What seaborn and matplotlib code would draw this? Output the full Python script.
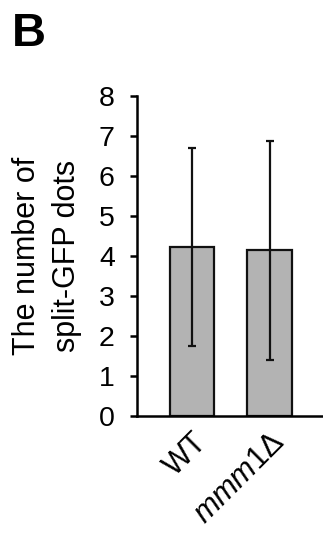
import matplotlib
matplotlib.use("Agg")
import matplotlib.pyplot as plt
import seaborn as sns
import pandas as pd

strains = ["WT", "$\\mathit{mmm1}$\u0394"]
means = [4.23, 4.14]
sd = [2.48, 2.74]

sns.set_style("ticks")
plt.rcParams['font.family'] = ['Liberation Sans', 'DejaVu Sans']
plt.rcParams['mathtext.fontset'] = 'custom'
plt.rcParams['mathtext.rm'] = 'Liberation Sans'
plt.rcParams['mathtext.it'] = 'Liberation Sans:italic'
plt.rcParams['text.color'] = 'black'
plt.rcParams['axes.labelcolor'] = 'black'
plt.rcParams['xtick.color'] = 'black'
plt.rcParams['ytick.color'] = 'black'
plt.rcParams['axes.edgecolor'] = 'black'

df = pd.DataFrame({"strain": strains, "dots": means})

fig = plt.figure(figsize=(3.23, 5.33), dpi=100)
ax = fig.add_axes([137/323, 1 - 416/533, 1 - 137/323, 320/533])

sns.barplot(data=df, x="strain", y="dots", color="#b3b3b3", saturation=1,
            width=0.57, edgecolor="#111111", linewidth=1.6, errorbar=None, ax=ax)
ax.errorbar(range(len(strains)), means, yerr=sd, fmt="none", ecolor="#111111",
            elinewidth=1.6, capsize=3, capthick=1.6)

ax.set_ylim(0, 8)
ax.set_xlim(-0.71, 1.69)
ax.set_yticks(range(0, 9))
ax.tick_params(axis="y", labelsize=20.5, length=5, width=1.8, pad=11)
ax.tick_params(axis="x", length=0, labelsize=22, pad=8)
for lbl in ax.get_xticklabels():
    lbl.set_rotation(45)
    lbl.set_ha("right")
    lbl.set_rotation_mode("anchor")

sns.despine(ax=ax)
ax.spines["left"].set_linewidth(1.8)
ax.spines["bottom"].set_linewidth(1.8)
ax.set_xlabel("")
ax.set_ylabel("The number of\nsplit-GFP dots", fontsize=22, labelpad=12, linespacing=1.45)

fig.text(12/323, 1 - 46/533, "B", fontsize=34, fontweight="bold")

plt.savefig("out.png", dpi=100)
